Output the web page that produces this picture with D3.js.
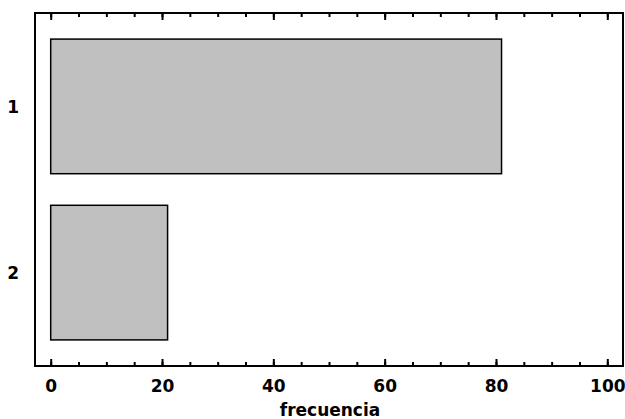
<!DOCTYPE html>
<html>
<head>
<meta charset="utf-8">
<script src="https://cdn.jsdelivr.net/npm/d3@7"></script>
<style>
  body { margin: 0; background: #fff; }
  svg text { font-family: "DejaVu Sans", sans-serif; font-weight: bold; fill: #000; }
</style>
</head>
<body>
<div id="chart"></div>
<script>
// data
const categories = ['1', '2'];
const frecuencia = [81, 21];
const xTicks = [0, 20, 40, 60, 80, 100];
const xMinorTicks = d3.range(0, 101, 5);

const width = 625, height = 419;
const frame = {left: 35, right: 623, top: 13, bottom: 366};

const svg = d3.select('#chart')
  .append('svg')
  .attr('width', width)
  .attr('height', height);

const x = d3.scaleLinear()
  .domain([0, 100])
  .range([frame.left + 15.7, frame.right - 15.7]);

const y = d3.scaleBand()
  .domain(categories)
  .range([frame.top, frame.bottom])
  .paddingInner(0.19)
  .paddingOuter(0.157);

// bars
svg.append('g')
  .selectAll('rect')
  .data(categories)
  .enter()
  .append('rect')
  .attr('x', x(0))
  .attr('y', d => y(d))
  .attr('width', (d, i) => x(frecuencia[i]) - x(0))
  .attr('height', y.bandwidth())
  .attr('fill', '#c0c0c0')
  .attr('stroke', '#000')
  .attr('stroke-width', 1.5);

// minor ticks, bottom and top
const minorBottom = d3.axisBottom(x).tickValues(xMinorTicks).tickSize(-4).tickFormat('');
const minorTop = d3.axisTop(x).tickValues(xMinorTicks).tickSize(-4).tickFormat('');
svg.append('g').attr('transform', `translate(0,${frame.bottom})`).call(minorBottom);
svg.append('g').attr('transform', `translate(0,${frame.top})`).call(minorTop);

// major ticks
const xAxis = d3.axisBottom(x).tickValues(xTicks).tickSize(-7).tickPadding(13.5).tickFormat(d3.format('d'));
svg.append('g')
  .attr('class', 'x-axis')
  .attr('transform', `translate(0,${frame.bottom})`)
  .call(xAxis)
  .selectAll('text')
  .style('font-size', '17px');
svg.append('g')
  .attr('transform', `translate(0,${frame.top})`)
  .call(d3.axisTop(x).tickValues(xTicks).tickSize(-7).tickFormat(''));

svg.selectAll('.domain').remove();
svg.selectAll('.tick line').attr('stroke', '#000').attr('stroke-width', 2);

// category labels
const yAxis = d3.axisLeft(y).tickSize(0).tickPadding(16);
svg.append('g')
  .attr('transform', `translate(${frame.left},0)`)
  .call(yAxis)
  .call(g => g.select('.domain').remove())
  .selectAll('text')
  .attr('dy', '0.4em')
  .style('font-size', '17px');

// frame
svg.append('rect')
  .attr('x', frame.left)
  .attr('y', frame.top)
  .attr('width', frame.right - frame.left)
  .attr('height', frame.bottom - frame.top)
  .attr('fill', 'none')
  .attr('stroke', '#000')
  .attr('stroke-width', 2);

// axis title
svg.append('text')
  .attr('x', (frame.left + frame.right) / 2 + 1)
  .attr('y', 416)
  .attr('text-anchor', 'middle')
  .style('font-size', '17px')
  .text('frecuencia');
</script>
</body>
</html>
